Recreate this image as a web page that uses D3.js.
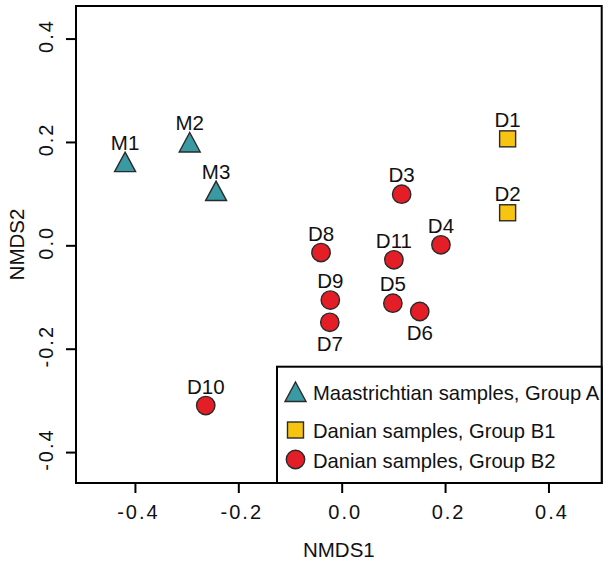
<!DOCTYPE html>
<html><head><meta charset="utf-8">
<script src="https://cdn.jsdelivr.net/npm/d3@7"></script>
<style>
html,body{margin:0;padding:0;background:#fff;}
text{font-family:"Liberation Sans",Arial,Helvetica,sans-serif;fill:#111;}
</style></head>
<body><svg id="c" width="609" height="563"></svg>
<script>
// ---- data ----
const groupA = ["M1","M2","M3"];
const groupAx = [-0.419,-0.294,-0.243];
const groupAy = [0.161,0.199,0.105];
const groupB1 = ["D1","D2"];
const groupB1x = [0.321,0.321];
const groupB1y = [0.206,0.063];
const groupB2 = ["D3","D4","D5","D6","D7","D8","D9","D10","D11"];
const groupB2x = [0.116,0.192,0.099,0.151,-0.023,-0.040,-0.022,-0.263,0.101];
const groupB2y = [0.099,0.001,-0.112,-0.128,-0.149,-0.014,-0.106,-0.310,-0.028];
const labelsBelow = ["D6","D7"];
const xTicks = [-0.4,-0.2,0.0,0.2,0.4];
const yTicks = [-0.4,-0.2,0.0,0.2,0.4];
const legendLabels = ["Maastrichtian samples, Group A","Danian samples, Group B1","Danian samples, Group B2"];

// ---- layout ----
const L=76, R=601.7, T=6, B=483;
const x = d3.scaleLinear().domain([-0.514,0.503]).range([L,R]);
const y = d3.scaleLinear().domain([-0.4598,0.463]).range([B,T]);
const svg = d3.select("#c");
const FS = 20.5, LFS = 20.2;
const fmt = d => d.toFixed(1);
const colA="#3A9AA3", colB1="#F7C411", colB2="#E41E26", stroke="#2a2a2a";

const triPath = "M0,-10 L10.5,9.5 L-10.5,9.5 Z";
function drawMarker(g, type){
  if(type==="A") g.append("path").attr("d",triPath).attr("fill",colA);
  else if(type==="B1") g.append("rect").attr("x",-8).attr("y",-8).attr("width",16).attr("height",16).attr("fill",colB1);
  else g.append("circle").attr("r",9.2).attr("fill",colB2);
  g.selectAll("*").attr("stroke",stroke).attr("stroke-width",1.4);
}

// frame
svg.append("rect").attr("x",L).attr("y",T).attr("width",R-L).attr("height",B-T)
  .attr("fill","none").attr("stroke","#000").attr("stroke-width",2);

// axes ticks
const xa = svg.append("g").attr("transform",`translate(0,${B})`)
  .call(d3.axisBottom(x).tickValues(xTicks).tickSize(10).tickSizeOuter(0).tickFormat(fmt));
xa.select(".domain").remove();
xa.selectAll("line").attr("stroke","#000").attr("stroke-width",2);
xa.selectAll("text").attr("font-size",20).attr("fill","#111").attr("dy",null).attr("y",36)
  .attr("x",3).attr("letter-spacing","2px").attr("font-family","Liberation Sans, Arial, sans-serif");

const ya = svg.append("g").attr("transform",`translate(${L},0)`)
  .call(d3.axisLeft(y).tickValues(yTicks).tickSize(10).tickSizeOuter(0).tickFormat(fmt));
ya.select(".domain").remove();
ya.selectAll("line").attr("stroke","#000").attr("stroke-width",2);
ya.selectAll("text").attr("font-size",20).attr("fill","#111")
  .attr("x",null).attr("dy",null).attr("text-anchor","middle")
  .attr("letter-spacing","2px").attr("font-family","Liberation Sans, Arial, sans-serif")
  .attr("transform","translate(-23,-3) rotate(-90)");

// axis titles
svg.append("text").attr("x",(L+R)/2).attr("y",557).attr("text-anchor","middle").attr("font-size",FS).text("NMDS1");
svg.append("text").attr("transform",`translate(24,${(T+B)/2}) rotate(-90)`).attr("text-anchor","middle").attr("font-size",FS).text("NMDS2");

// points
function plotGroup(names, xs, ys, type){
  names.forEach((n,i)=>{
    const px=x(xs[i]), py=y(ys[i]);
    const g=svg.append("g").attr("transform",`translate(${px},${py})`);
    drawMarker(g,type);
    const below = labelsBelow.includes(n);
    svg.append("text").attr("x",px).attr("y", below ? py+29 : py-12)
      .attr("text-anchor","middle").attr("font-size",FS).text(n);
  });
}
plotGroup(groupA,groupAx,groupAy,"A");
plotGroup(groupB1,groupB1x,groupB1y,"B1");
plotGroup(groupB2,groupB2x,groupB2y,"B2");

// legend
const lgL=277, lgT=366.7;
svg.append("rect").attr("x",lgL).attr("y",lgT).attr("width",R-lgL).attr("height",B-lgT)
  .attr("fill","#fff").attr("stroke","#000").attr("stroke-width",2);
const rowY=[392,430,459.5];
const types=["A","B1","B2"];
legendLabels.forEach((t,i)=>{
  const g=svg.append("g").attr("transform",`translate(295.5,${rowY[i]})`);
  drawMarker(g,types[i]);
  svg.append("text").attr("x",313).attr("y",rowY[i]+8).attr("font-size",LFS).text(t);
});
</script></body></html>
